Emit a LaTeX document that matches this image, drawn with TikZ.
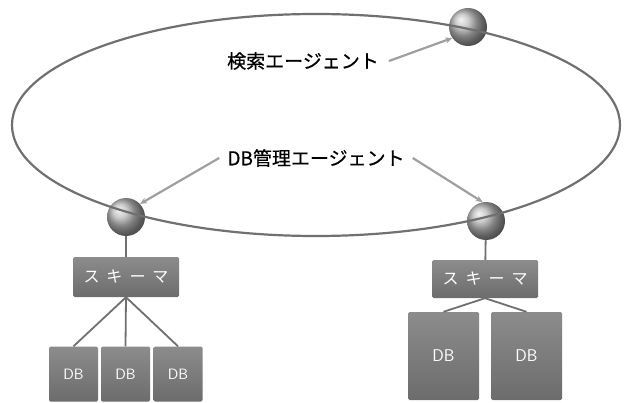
\documentclass[tikz,border=0pt]{standalone}
\usepackage{fontspec}
\newfontfamily\jp[FakeBold=0.6]{Noto Sans CJK JP}
\newfontfamily\jpw{Noto Sans CJK JP}
\usetikzlibrary{arrows.meta,shadings}
\definecolor{linegray}{HTML}{707070}
\definecolor{boxtop}{HTML}{8C8C8C}
\definecolor{boxbot}{HTML}{6C6C6C}
\tikzset{
  sphere/.style={circle, minimum size=38pt, inner sep=0pt, ball color=gray!55, draw=none},
  boxnode/.style={rectangle, rounded corners=1.5pt, top color=boxtop, bottom color=boxbot, draw=none, text=white, inner sep=0pt, font=\jpw\fontsize{16}{16}\selectfont},
  link/.style={draw=linegray, line width=1.8pt},
  ring/.style={draw=linegray, line width=2.2pt},
  pointer/.style={draw=gray!75, line width=2.2pt, -{Stealth[length=7pt,width=6pt]}},
  label/.style={font=\jp\fontsize{19}{19}\selectfont, text=black, inner sep=0pt}
}
\begin{document}
\begin{tikzpicture}[x=1pt,y=-1pt]
\useasboundingbox (0,0) rectangle (631,403);
% spheres
\node[sphere] (s1) at (468,27) {};
\node[sphere] (s2) at (126,217) {};
\node[sphere] (s3) at (486,221) {};
% ring
\draw[ring] (316,125) ellipse [x radius=304, y radius=111];
% schema boxes
\node[boxnode, minimum width=106pt, minimum height=40pt] (sch1) at (126,277) {ス\hspace{7pt}キ\hspace{7pt}ー\hspace{7pt}マ};
\node[boxnode, minimum width=106pt, minimum height=38pt] (sch2) at (485,279) {ス\hspace{7pt}キ\hspace{7pt}ー\hspace{7pt}マ};
% DB boxes
\node[boxnode, minimum width=49pt, minimum height=55pt, font=\sffamily\fontsize{15}{15}\selectfont] (d1) at (73.5,374) {DB};
\node[boxnode, minimum width=49pt, minimum height=55pt, font=\sffamily\fontsize{15}{15}\selectfont] (d2) at (125.5,374) {DB};
\node[boxnode, minimum width=49pt, minimum height=55pt, font=\sffamily\fontsize{15}{15}\selectfont] (d3) at (178,374) {DB};
\node[boxnode, minimum width=71pt, minimum height=88pt, font=\sffamily\fontsize{17}{17}\selectfont] (d4) at (443.5,356) {DB};
\node[boxnode, minimum width=71pt, minimum height=88pt, font=\sffamily\fontsize{17}{17}\selectfont] (d5) at (526.5,356) {DB};
% links
\draw[link] (s2) -- (sch1);
\draw[link] (s3) -- (sch2);
\draw[link] (sch1.south) -- (d1.north);
\draw[link] (sch1.south) -- (d2.north);
\draw[link] (sch1.south) -- (d3.north);
\draw[link] (sch2.south) -- (d4.north);
\draw[link] (sch2.south) -- (d5.north);
% labels
\node[label] (l1) at (303,61) {検索エージェント};
\node[label] (l2) at (316,158) {DB管理エージェント};
\draw[pointer] ([xshift=10pt]l1.east) -- (s1.215);
\draw[pointer] ([xshift=-8pt]l2.west) -- (s2.43);
\draw[pointer] ([xshift=8pt]l2.east) -- (s3.100);
\end{tikzpicture}
\end{document}
